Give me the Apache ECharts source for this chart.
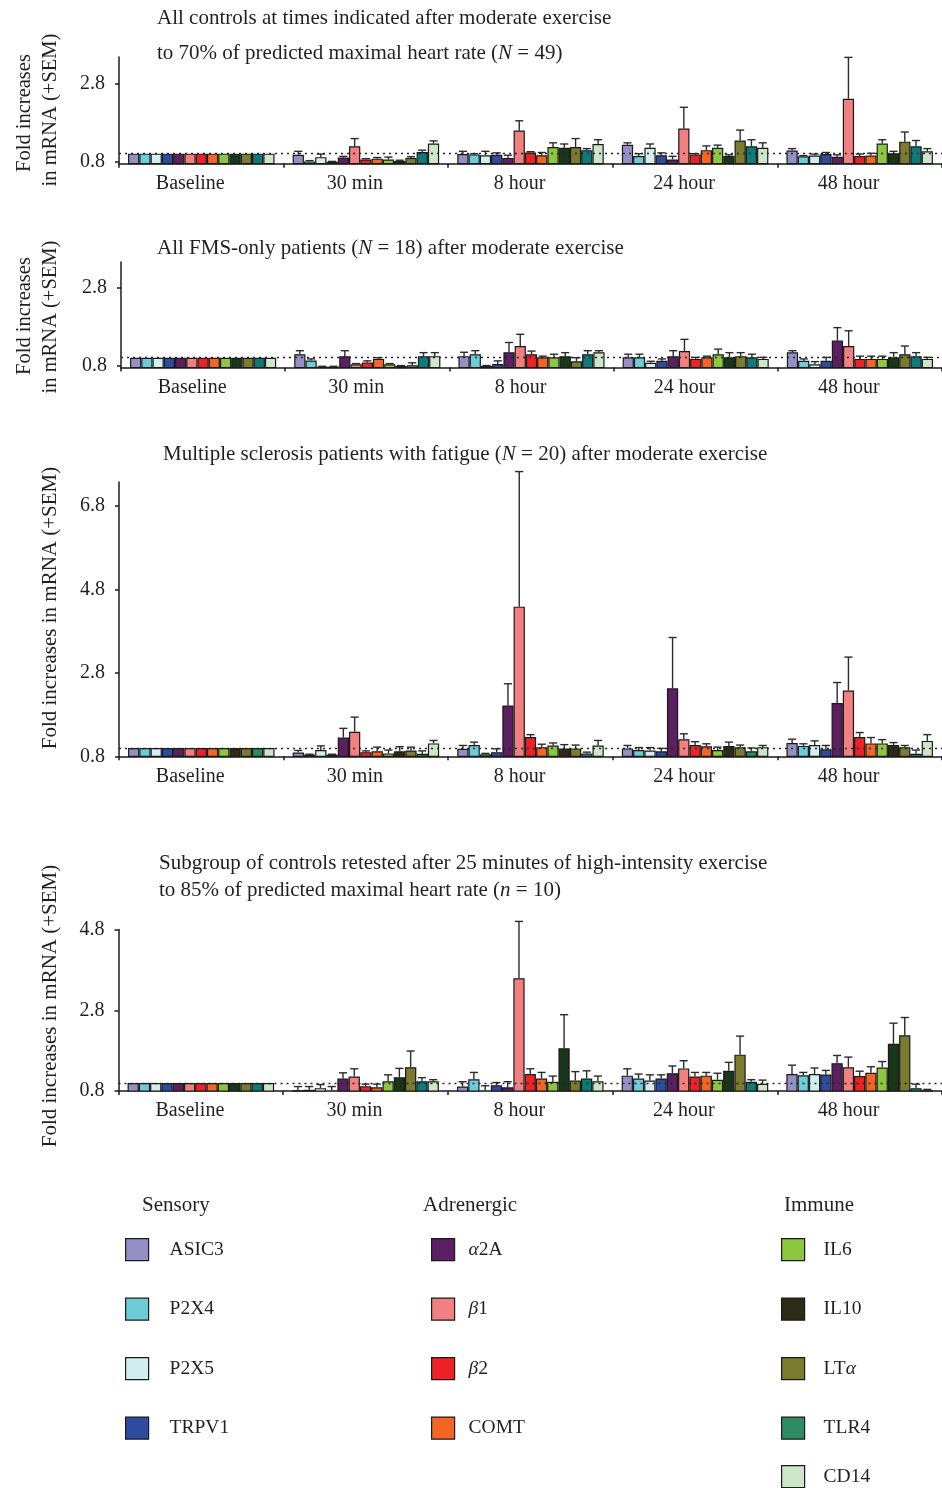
<!DOCTYPE html>
<html><head><meta charset="utf-8">
<script src="https://cdn.jsdelivr.net/npm/echarts@6/dist/echarts.min.js"></script>
<style>html,body{margin:0;padding:0;background:#fff}#c{width:942px;height:1488px}</style>
</head><body><div id="c"></div>
<script>
// ---------------- DATA ----------------
const categories = ['Baseline', '30 min', '8 hour', '24 hour', '48 hour'];
const genes = ['ASIC3', 'P2X4', 'P2X5', 'TRPV1', 'α2A', 'β1', 'β2', 'COMT', 'IL6', 'IL10', 'LTα', 'TLR4', 'CD14'];
const sensoryGenes = ['ASIC3', 'P2X4', 'P2X5', 'TRPV1'];
const adrenergicGenes = ['α2A', 'β1', 'β2', 'COMT'];
const immuneGenes = ['IL6', 'IL10', 'LTα', 'TLR4'];
const immuneGenesLast = ['CD14'];

// Panel 1: all controls, moderate exercise (N = 49). Rows = time points, columns = genes.
const controlsMean = [
  [1, 1, 1, 1, 1, 1, 1, 1, 1, 1, 1, 1, 1],
  [0.97, 0.80, 0.91, 0.79, 0.90, 1.19, 0.85, 0.87, 0.85, 0.81, 0.89, 1.04, 1.26],
  [0.99, 0.98, 0.96, 0.97, 0.89, 1.60, 1.03, 0.96, 1.17, 1.15, 1.17, 1.09, 1.25],
  [1.23, 0.94, 1.15, 0.96, 0.85, 1.65, 0.98, 1.09, 1.15, 0.94, 1.34, 1.19, 1.15],
  [1.08, 0.93, 0.95, 0.99, 0.92, 2.42, 0.94, 0.95, 1.26, 1.01, 1.31, 1.19, 1.06]
];
const controlsSem = [
  [0, 0, 0, 0, 0, 0, 0, 0, 0, 0, 0, 0, 0],
  [0.09, 0.02, 0.08, 0.01, 0.03, 0.20, 0.02, 0.03, 0.06, 0.02, 0.03, 0.05, 0.07],
  [0.07, 0.02, 0.10, 0.05, 0.07, 0.25, 0.02, 0.07, 0.11, 0.10, 0.22, 0.04, 0.11],
  [0.05, 0.06, 0.10, 0.06, 0.08, 0.55, 0.02, 0.11, 0.07, 0.03, 0.27, 0.17, 0.13],
  [0.05, 0.02, 0.04, 0.04, 0.05, 1.07, 0.05, 0.06, 0.10, 0.05, 0.25, 0.15, 0.07]
];
// Panel 2: FMS-only patients (N = 18)
const fmsMean = [
  [1, 1, 1, 1, 1, 1, 1, 1, 1, 1, 1, 1, 1],
  [1.09, 0.93, 0.77, 0.77, 1.04, 0.83, 0.88, 0.97, 0.83, 0.79, 0.81, 1.04, 1.04],
  [1.04, 1.09, 0.79, 0.84, 1.14, 1.30, 1.09, 1.01, 1.01, 1.04, 0.91, 1.09, 1.14],
  [1.01, 1.01, 0.87, 0.92, 1.04, 1.17, 0.97, 1.01, 1.09, 1.01, 1.04, 1.01, 0.97],
  [1.14, 0.92, 0.83, 0.92, 1.44, 1.30, 0.97, 0.97, 0.97, 1.01, 1.09, 1.04, 0.97]
];
const fmsSem = [
  [0, 0, 0, 0, 0, 0, 0, 0, 0, 0, 0, 0, 0],
  [0.09, 0.04, 0.01, 0.01, 0.14, 0.02, 0.04, 0.03, 0.02, 0.01, 0.06, 0.09, 0.09],
  [0.10, 0.09, 0.01, 0.08, 0.25, 0.30, 0.08, 0.03, 0.08, 0.09, 0.09, 0.09, 0.04],
  [0.08, 0.08, 0.04, 0.05, 0.14, 0.30, 0.04, 0.03, 0.13, 0.12, 0.09, 0.08, 0.04],
  [0.04, 0.05, 0.07, 0.09, 0.33, 0.39, 0.07, 0.07, 0.07, 0.12, 0.21, 0.09, 0.04]
];
// Panel 3: MS patients with fatigue (N = 20)
const msMean = [
  [1, 1, 1, 1, 1, 1, 1, 1, 1, 1, 1, 1, 1],
  [0.89, 0.84, 0.95, 0.84, 1.25, 1.39, 0.90, 0.92, 0.87, 0.92, 0.94, 0.86, 1.11],
  [0.98, 1.07, 0.85, 0.90, 2.02, 4.39, 1.26, 1.02, 1.06, 0.99, 0.99, 0.87, 1.06],
  [0.99, 0.95, 0.94, 0.92, 2.43, 1.21, 1.07, 1.04, 0.95, 1.05, 1.02, 0.92, 1.02],
  [1.12, 1.05, 1.07, 0.97, 2.08, 2.38, 1.26, 1.11, 1.11, 1.07, 1.02, 0.86, 1.17]
];
const msSem = [
  [0, 0, 0, 0, 0, 0, 0, 0, 0, 0, 0, 0, 0],
  [0.05, 0.01, 0.10, 0.01, 0.22, 0.35, 0.03, 0.10, 0.08, 0.11, 0.08, 0.07, 0.07],
  [0.08, 0.07, 0.02, 0.08, 0.52, 3.24, 0.06, 0.07, 0.06, 0.09, 0.08, 0.03, 0.12],
  [0.07, 0.06, 0.07, 0.07, 1.22, 0.13, 0.08, 0.06, 0.07, 0.09, 0.05, 0.08, 0.04],
  [0.09, 0.05, 0.10, 0.09, 0.49, 0.80, 0.11, 0.14, 0.09, 0.06, 0.04, 0.09, 0.15]
];
// Panel 4: controls retested after high-intensity exercise (n = 10)
const highMean = [
  [1, 1, 1, 1, 1, 1, 1, 1, 1, 1, 1, 1, 1],
  [0.82, 0.83, 0.87, 0.81, 1.11, 1.16, 0.92, 0.89, 1.04, 1.14, 1.39, 1.04, 1.04],
  [0.91, 1.09, 0.81, 0.94, 0.89, 3.59, 1.22, 1.11, 1.03, 1.86, 1.06, 1.11, 1.04],
  [1.18, 1.11, 1.06, 1.11, 1.24, 1.36, 1.16, 1.18, 1.08, 1.30, 1.70, 1.03, 0.98],
  [1.22, 1.19, 1.22, 1.21, 1.49, 1.39, 1.17, 1.25, 1.38, 1.97, 2.18, 0.87, 0.82]
];
const highSem = [
  [0, 0, 0, 0, 0, 0, 0, 0, 0, 0, 0, 0, 0],
  [0.09, 0.08, 0.09, 0.10, 0.14, 0.19, 0.05, 0.08, 0.16, 0.22, 0.40, 0.09, 0.04],
  [0.12, 0.17, 0.12, 0.07, 0.14, 1.41, 0.13, 0.15, 0.14, 0.83, 0.22, 0.19, 0.13],
  [0.17, 0.11, 0.14, 0.09, 0.18, 0.19, 0.10, 0.08, 0.16, 0.21, 0.46, 0.05, 0.09],
  [0.22, 0.07, 0.15, 0.10, 0.19, 0.25, 0.12, 0.15, 0.15, 0.51, 0.44, 0.10, 0.02]
];
const tickLabels1 = [0.8, 2.8];
const tickLabels2 = [0.8, 2.8];
const tickLabels3 = [0.8, 2.8, 4.8, 6.8];
const tickLabels4 = [0.8, 2.8, 4.8];

// ---------------- STYLE / LAYOUT ----------------
const FONT = '"Liberation Serif", "Times New Roman", serif';
const TXT = '#231f20';
const baseColors = ['#9490c6', '#6ccdd9', '#d2eef0', '#2e4c9e', '#5c1f62', '#f28080', '#ec2227', '#f26522', '#8dc63f', '#2c2c14', '#7b7b30', '#2e8b62', '#cde6c7'];
const tealColors = baseColors.slice(); tealColors[9] = '#1a361a'; tealColors[11] = '#0e7b7b';
const panelColors = [tealColors, tealColors, baseColors, tealColors];
const GAP = 0.11;

const panels = [
  {mean: controlsMean, sem: controlsSem, ticks: tickLabels1, left: 119, top: 57, height: 106.7, min: 0.74, max: 3.5},
  {mean: fmsMean, sem: fmsSem, ticks: tickLabels2, left: 121, top: 262, height: 105.5, min: 0.75, max: 3.45},
  {mean: msMean, sem: msSem, ticks: tickLabels3, left: 119, top: 482, height: 274.3, min: 0.8, max: 7.38},
  {mean: highMean, sem: highSem, ticks: tickLabels4, left: 118.5, top: 929.5, height: 161.5, min: 0.8, max: 4.8}
];

const axisLineStyle = {color: '#1a1a1a', width: 1.5};
const grid = [], xAxis = [], yAxis = [], series = [];

panels.forEach((p, g) => {
  grid.push({left: p.left, right: 0, top: p.top, height: p.height, containLabel: false});
  xAxis.push({
    type: 'category', gridIndex: g, data: categories,
    axisLine: {lineStyle: axisLineStyle},
    axisTick: {show: true, length: 4, lineStyle: axisLineStyle},
    axisLabel: {fontFamily: FONT, fontSize: 20, color: TXT, margin: 10, padding: [0, 22, 0, 0]},
    splitLine: {show: false}
  });
  yAxis.push({
    type: 'value', gridIndex: g, min: p.min, max: p.max,
    axisLine: {show: true, lineStyle: axisLineStyle},
    axisTick: {show: true, length: 4, lineStyle: axisLineStyle, customValues: p.ticks},
    axisLabel: {customValues: p.ticks, formatter: v => Number(v).toFixed(1), fontFamily: FONT, fontSize: 20, color: TXT, margin: 14},
    splitLine: {show: false}
  });
  genes.forEach((name, s) => {
    const ser = {
      type: 'bar', name: name, xAxisIndex: g, yAxisIndex: g,
      data: p.mean.map(row => row[s]),
      barGap: '0%', barCategoryGap: (GAP * 100) + '%',
      itemStyle: {color: panelColors[g][s], borderColor: '#1a1a1a', borderWidth: 1.2},
      emphasis: {disabled: true}, silent: true
    };
    if (s === genes.length - 1) {
      ser.markLine = {
        silent: true, symbol: ['none', 'none'], label: {show: false},
        lineStyle: {type: [2, 4], color: '#222', width: 1.3},
        data: [{yAxis: 1}]
      };
    }
    series.push(ser);
  });
  const errData = [];
  p.mean.forEach((row, c) => {
    if (c === 0) return;
    row.forEach((v, s) => {
      const e = p.sem[c][s];
      if (e > 0) errData.push([c, s, v, v + e]);
    });
  });
  series.push({
    type: 'custom', xAxisIndex: g, yAxisIndex: g, clip: false, silent: true, z: 3,
    encode: {x: 0, y: [2, 3]},
    data: errData,
    renderItem: function (params, api) {
      const c = api.value(0), s = api.value(1);
      const pt = api.coord([c, api.value(2)]);
      const qt = api.coord([c, api.value(3)]);
      const band = api.size([1, 0])[0];
      const used = band * (1 - GAP);
      const bw = used / genes.length;
      const x = pt[0] - used / 2 + (s + 0.5) * bw;
      const st = {stroke: '#2b2b2b', lineWidth: 1.4};
      return {type: 'group', children: [
        {type: 'line', shape: {x1: x, y1: pt[1], x2: x, y2: qt[1]}, style: st},
        {type: 'line', shape: {x1: x - bw * 0.36, y1: qt[1], x2: x + bw * 0.36, y2: qt[1]}, style: st}
      ]};
    }
  });
});

function legendColor(n) { return baseColors[genes.indexOf(n)]; }
function makeLegend(list, left, top, pad) {
  return {
    left: left, top: top, orient: 'vertical', padding: 0,
    itemWidth: 23, itemHeight: 22, itemGap: 36.3, icon: 'rect', selectedMode: false,
    data: list.map(n => ({name: n, itemStyle: {color: legendColor(n), borderColor: '#1a1a1a', borderWidth: 1.2}})),
    formatter: n => n.replace(/([αβ])/g, '{i|$1}'),
    textStyle: {
      fontFamily: FONT, fontSize: 19.5, color: TXT, padding: [0, 0, 0, pad],
      rich: {i: {fontFamily: FONT, fontSize: 19.5, fontStyle: 'italic', color: TXT}}
    }
  };
}

function txt(x, y, text, opts) {
  opts = opts || {};
  const fs = opts.size || 21;
  return {
    type: 'text', x: x, y: y, rotation: opts.rot || 0, silent: true,
    style: {
      text: text, fill: TXT, fontFamily: FONT, fontSize: fs,
      align: opts.align || 'left', verticalAlign: 'middle',
      rich: {i: {fontFamily: FONT, fontSize: fs, fontStyle: 'italic', fill: TXT}}
    }
  };
}

const rot = Math.PI / 2;
const graphic = [
  txt(157, 18, 'All controls at times indicated after moderate exercise'),
  txt(157, 53, 'to 70% of predicted maximal heart rate ({i|N} = 49)'),
  txt(157, 248, 'All FMS-only patients ({i|N} = 18) after moderate exercise'),
  txt(163, 454, 'Multiple sclerosis patients with fatigue ({i|N} = 20) after moderate exercise'),
  txt(159, 863, 'Subgroup of controls retested after 25 minutes of high-intensity exercise'),
  txt(159, 890, 'to 85% of predicted maximal heart rate ({i|n} = 10)'),
  txt(25, 113, 'Fold increases', {rot: rot, align: 'center', size: 20.5}),
  txt(51, 110, 'in mRNA (+SEM)', {rot: rot, align: 'center', size: 20.5}),
  txt(25, 316, 'Fold increases', {rot: rot, align: 'center', size: 20.5}),
  txt(51, 317, 'in mRNA (+SEM)', {rot: rot, align: 'center', size: 20.5}),
  txt(50, 608, 'Fold increases in mRNA (+SEM)', {rot: rot, align: 'center', size: 21}),
  txt(50, 1006, 'Fold increases in mRNA (+SEM)', {rot: rot, align: 'center', size: 21}),
  txt(142, 1205, 'Sensory'),
  txt(423, 1205, 'Adrenergic'),
  txt(784, 1205, 'Immune')
];

const option = {
  animation: false,
  backgroundColor: '#fff',
  grid: grid, xAxis: xAxis, yAxis: yAxis, series: series,
  legend: [
    makeLegend(sensoryGenes, 125, 1238, 16),
    makeLegend(adrenergicGenes, 431, 1238, 9),
    makeLegend(immuneGenes, 781, 1238, 14),
    makeLegend(immuneGenesLast, 781, 1465, 14)
  ],
  graphic: graphic
};
const chart = echarts.init(document.getElementById('c'), null, {renderer: 'canvas'});
chart.setOption(option);
</script></body></html>
